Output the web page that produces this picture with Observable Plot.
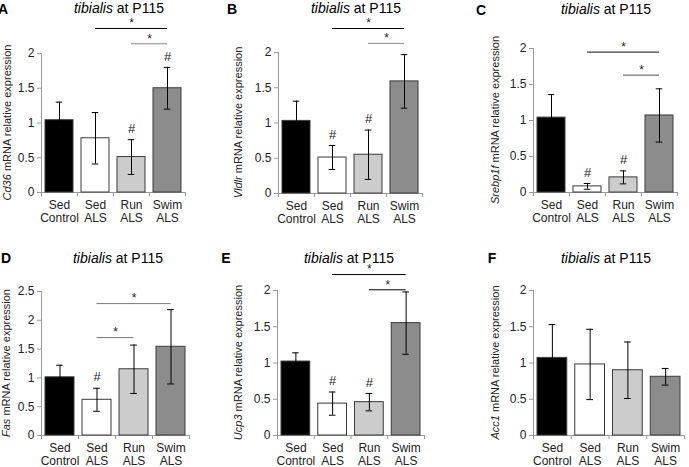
<!DOCTYPE html>
<html>
<head>
<meta charset="utf-8">
<script src="https://cdn.jsdelivr.net/npm/d3@7"></script>
<script src="https://cdn.jsdelivr.net/npm/@observablehq/plot@0.6"></script>
<style>
  html, body { margin: 0; padding: 0; background: #fff; }
  #fig { position: relative; width: 689px; height: 467px; overflow: hidden; font-family: "Liberation Sans", Arial, sans-serif; }
  .panel { position: absolute; }
  .panel svg { overflow: visible; }
</style>
</head>
<body>
<div id="fig"></div>
<script>
// ---- data ----
const categories = ["Sed\nControl", "Sed\nALS", "Run\nALS", "Swim\nALS"];
const barColors = ["#000000", "#ffffff", "#cccccc", "#8c8c8c"];
const titleMuscle = "tibialis";
const titleRest = " at P115";

const cd36Mean = [1.04, 0.78, 0.51, 1.50];
const cd36Err  = [0.26, 0.37, 0.25, 0.30];
const cd36Hash = [false, false, true, true];
const cd36Sig  = [{from: 1, to: 3, level: 2.36, color: "#000"}, {from: 2, to: 3, level: 2.14, color: "#888"}];

const vldlrMean = [1.03, 0.51, 0.55, 1.59];
const vldlrErr  = [0.28, 0.17, 0.35, 0.38];
const vldlrHash = [false, true, true, false];
const vldlrSig  = [{from: 1, to: 3, level: 2.34, color: "#000"}, {from: 2, to: 3, level: 2.13, color: "#888"}];

const srebpMean = [1.04, 0.085, 0.21, 1.07];
const srebpErr  = [0.32, 0.04, 0.09, 0.37];
const srebpHash = [false, true, true, false];
const srebpSig  = [{from: 1, to: 3, level: 1.95, color: "#111"}, {from: 2, to: 3, level: 1.63, color: "#555"}];

const fasMean = [1.01, 0.62, 1.15, 1.54];
const fasErr  = [0.21, 0.20, 0.42, 0.645];
const fasHash = [false, true, false, false];
const fasSig  = [{from: 1, to: 3, level: 2.29, color: "#777"}, {from: 1, to: 2, level: 1.70, color: "#777"}];

const ucp3Mean = [1.02, 0.44, 0.46, 1.55];
const ucp3Err  = [0.12, 0.16, 0.12, 0.43];
const ucp3Hash = [false, true, true, false];
const ucp3Sig  = [{from: 1, to: 3, level: 2.22, color: "#000"}, {from: 2, to: 3, level: 2.01, color: "#000"}];

const acc1Mean = [1.07, 0.98, 0.90, 0.81];
const acc1Err  = [0.46, 0.485, 0.39, 0.115];
const acc1Hash = [false, false, false, false];
const acc1Sig  = [];

const ticks2 = [0, 0.5, 1, 1.5, 2];
const ticks25 = [0, 0.5, 1, 1.5, 2, 2.5];

const panels = [
  {letter: "A", gene: "Cd36", mean: cd36Mean, err: cd36Err, hash: cd36Hash, sig: cd36Sig, yMax: 2, ticks: ticks2,
   left: 0, top: 0, w: 230, h: 233, mt: 53, mr: 45, mb: 41, ml: 41, labelX: 7, titleX: 119, titleY: 13, letterX: 3, letterY: 14},
  {letter: "B", gene: "Vldlr", mean: vldlrMean, err: vldlrErr, hash: vldlrHash, sig: vldlrSig, yMax: 2, ticks: ticks2,
   left: 230, top: 0, w: 230, h: 233, mt: 52, mr: 38, mb: 40, ml: 48, labelX: 8, titleX: 126, titleY: 13, letterX: 2, letterY: 14},
  {letter: "C", gene: "Srebp1f", mean: srebpMean, err: srebpErr, hash: srebpHash, sig: srebpSig, yMax: 2, ticks: ticks2,
   left: 460, top: 0, w: 229, h: 233, mt: 48, mr: 12, mb: 41, ml: 73, labelX: 35, titleX: 146, titleY: 14, letterX: 21, letterY: 15},
  {letter: "D", gene: "Fas", mean: fasMean, err: fasErr, hash: fasHash, sig: fasSig, yMax: 2.5, ticks: ticks25,
   left: 0, top: 233, w: 230, h: 234, mt: 58, mr: 41, mb: 32, ml: 41, labelX: 6, titleX: 118, titleY: 30, letterX: 6, letterY: 30},
  {letter: "E", gene: "Ucp3", mean: ucp3Mean, err: ucp3Err, hash: ucp3Hash, sig: ucp3Sig, yMax: 2, ticks: ticks2,
   left: 230, top: 233, w: 230, h: 234, mt: 57, mr: 36, mb: 32, ml: 47, labelX: 8, titleX: 119, titleY: 30, letterX: -4, letterY: 30},
  {letter: "F", gene: "Acc1", mean: acc1Mean, err: acc1Err, hash: acc1Hash, sig: acc1Sig, yMax: 2, ticks: ticks2,
   left: 460, top: 233, w: 229, h: 234, mt: 57, mr: 5, mb: 32, ml: 73, labelX: 35, titleX: 146, titleY: 30, letterX: 32, letterY: 30}
];

const fig = document.getElementById("fig");
const axisGray = "#9a9a9a";
const textCol = "#222";

for (const p of panels) {
  const data = categories.map((c, i) => ({
    i, mean: p.mean[i], lo: p.mean[i] - p.err[i], hi: p.mean[i] + p.err[i],
    color: barColors[i], hash: p.hash[i]
  }));
  const svg = Plot.plot({
    width: p.w, height: p.h,
    marginTop: p.mt, marginRight: p.mr, marginBottom: p.mb, marginLeft: p.ml,
    x: {domain: [-0.5, 3.5], axis: null},
    y: {domain: [0, p.yMax], axis: null},
    color: {type: "identity"},
    style: {fontFamily: "'Liberation Sans', Arial, sans-serif", fontSize: "12px", background: "transparent", overflow: "visible"},
    marks: [
      Plot.ruleY([0], {x1: -0.5, x2: 3.5, stroke: axisGray}),
      Plot.axisX({ticks: [-0.5, 0.5, 1.5, 2.5, 3.5], tickSize: 4, tickFormat: () => "", stroke: axisGray}),
      Plot.axisX({ticks: [0, 1, 2, 3], tickSize: 0, tickPadding: 8, tickFormat: i => categories[i], fontSize: 12, lineHeight: 1.05, fill: textCol}),
      Plot.ruleX([-0.5], {y1: 0, y2: p.yMax, stroke: axisGray}),
      Plot.axisY({ticks: p.ticks, tickSize: 4, tickPadding: 3, tickFormat: d => String(d), stroke: axisGray, fill: textCol, fontSize: 12}),
      Plot.rectY(data, {x1: d => d.i - 0.5, x2: d => d.i + 0.5, y1: 0, y2: "mean", fill: "color", stroke: "#3a3a3a", strokeWidth: 1, insetLeft: 4, insetRight: 4}),
      Plot.ruleX(data, {x: "i", y1: "lo", y2: "hi", stroke: "#000", strokeWidth: 1}),
      Plot.ruleY(data, {y: "hi", x1: d => d.i - 0.09, x2: d => d.i + 0.09, stroke: "#000", strokeWidth: 1}),
      Plot.ruleY(data, {y: "lo", x1: d => d.i - 0.09, x2: d => d.i + 0.09, stroke: "#000", strokeWidth: 1}),
      Plot.text(data.filter(d => d.hash), {x: "i", y: "hi", text: () => "#", dy: -11, fontSize: 13, fill: textCol}),
      Plot.ruleY(p.sig, {y: "level", x1: "from", x2: "to", stroke: "color", strokeWidth: 1}),
      Plot.text(p.sig, {x: d => (d.from + d.to) / 2, y: "level", text: () => "*", dy: -5, fontSize: 12, fill: textCol})
    ]
  });
  const s = d3.select(svg);
  // panel letter
  s.append("text").attr("x", p.letterX).attr("y", p.letterY)
    .attr("font-size", 14).attr("font-weight", "bold").attr("fill", "#000").text(p.letter);
  // title
  const t = s.append("text").attr("x", p.titleX).attr("y", p.titleY)
    .attr("text-anchor", "middle").attr("font-size", 14).attr("fill", "#000");
  t.append("tspan").attr("font-style", "italic").text(titleMuscle);
  t.append("tspan").text(titleRest);
  // y label
  const cy = p.mt + (p.h - p.mt - p.mb) / 2;
  const yl = s.append("text").attr("transform", `translate(${p.labelX},${cy}) rotate(-90)`)
    .attr("text-anchor", "middle").attr("dominant-baseline", "central")
    .attr("font-size", 11).attr("fill", textCol);
  yl.append("tspan").attr("font-style", "italic").text(p.gene);
  yl.append("tspan").text(" mRNA relative expression");

  const div = document.createElement("div");
  div.className = "panel";
  div.style.left = p.left + "px";
  div.style.top = p.top + "px";
  div.appendChild(svg);
  fig.appendChild(div);
}
</script>
</body>
</html>
